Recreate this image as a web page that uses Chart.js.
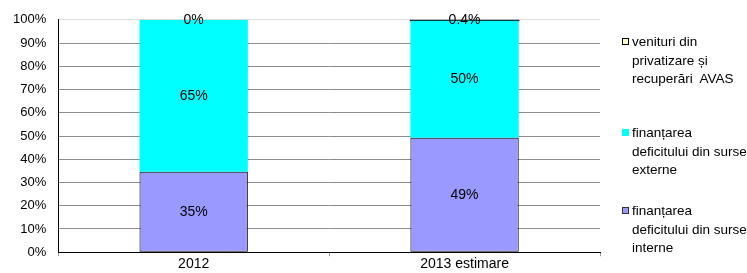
<!DOCTYPE html>
<html><head><meta charset="utf-8">
<script src="https://cdn.jsdelivr.net/npm/chart.js@4/dist/chart.umd.min.js"></script>
<style>
html,body{margin:0;padding:0;background:#fff;}
#wrap{position:relative;width:747px;height:273px;}
#legend{position:absolute;left:622px;top:0;width:125px;font-family:"Liberation Sans",Arial,sans-serif;font-size:13.5px;line-height:18.5px;color:#000;}
.item{position:absolute;left:0;padding-left:10px;width:118px;white-space:nowrap;}
.box{position:absolute;left:0;top:5px;width:7px;height:7px;box-sizing:border-box;}
</style></head>
<body>
<div id="wrap"><canvas id="c" width="747" height="273"></canvas><div id="legend"></div></div>
<script>
const categories = ["2012", "2013 estimare"];
const interne = [34.6, 49.3];
const externe = [65.4, 50.3];
const avas = [0, 0.4];
const labelsInterne = ["35%", "49%"];
const labelsExterne = ["65%", "50%"];
const labelsAvas = ["0%", "0.4%"];
const yTicks = [0,10,20,30,40,50,60,70,80,90,100];

const datasets = [
  {label:"finanțarea deficitului din surse interne", data:interne, txt:labelsInterne, backgroundColor:"#9999FF", borderColor:"#000", borderWidth:1, borderSkipped:false},
  {label:"finanțarea deficitului din surse externe", data:externe, txt:labelsExterne, backgroundColor:"#00FFFF", borderColor:"#00FFFF", borderWidth:0},
  {label:"venituri din privatizare și recuperări  AVAS", data:avas, txt:labelsAvas, backgroundColor:["#FFFFCC","#000"], borderColor:"#000", borderWidth:0, inflateAmount:[0,0.6]}
];

const labelPlugin = {
  id:"segLabels",
  afterDatasetsDraw(chart){
    const ctx = chart.ctx;
    ctx.save();
    ctx.font = '14px "Liberation Sans", Arial, sans-serif';
    ctx.fillStyle = "#000";
    ctx.textAlign = "center";
    ctx.textBaseline = "middle";
    chart.data.datasets.forEach((ds,i)=>{
      chart.getDatasetMeta(i).data.forEach((bar,j)=>{
        const p = bar.getProps(["x","y","base"],true);
        ctx.fillText(ds.txt[j], p.x, (p.y+p.base)/2);
      });
    });
    ctx.restore();
  }
};

new Chart(document.getElementById("c"), {
  type:"bar",
  data:{labels:categories, datasets:datasets},
  options:{
    responsive:false, animation:false,
    layout:{padding:{left:1,right:147,top:14,bottom:0}},
    plugins:{legend:{display:false}, tooltip:{enabled:false}},
    scales:{
      x:{stacked:true,
         grid:{offset:true, drawOnChartArea:false, drawTicks:true, tickLength:4, color:"#999"},
         border:{color:"#000", width:1},
         ticks:{color:"#000", font:{family:"Liberation Sans", size:14}, padding:0}},
      y:{stacked:true, min:0, max:100,
         afterBuildTicks(axis){ axis.ticks = yTicks.map(v=>({value:v})); },
         grid:{color:(c)=> c.tick && c.tick.value===100 ? "#dddddd" : "#8c8c8c", drawTicks:false},
         border:{color:"#000", width:1},
         ticks:{color:"#000", font:{family:"Liberation Sans", size:13}, padding:12, callback:v=>v+"%"}}
    },
    datasets:{bar:{categoryPercentage:1, barPercentage:0.4}}
  },
  plugins:[labelPlugin]
});

// HTML legend, same order as reference (top to bottom), same line breaks
const legendItems = [
  {lines:["venituri din","privatizare și","recuperări  AVAS"], color:"#FFFFCC", border:"#000", top:33},
  {lines:["finanțarea","deficitului din surse","externe"], color:"#00FFFF", border:"#00FFFF", top:124},
  {lines:["finanțarea","deficitului din surse","interne"], color:"#9999FF", border:"#333", top:202}
];
const lg = document.getElementById("legend");
legendItems.forEach(it=>{
  const d = document.createElement("div");
  d.className="item"; d.style.top = it.top+"px";
  d.innerHTML = '<span class="box" style="background:'+it.color+';border:1px solid '+it.border+'"></span>'+it.lines.map(s=>s.replace("  ","&nbsp; ")).join("<br>");
  lg.appendChild(d);
});
</script>
</body></html>
